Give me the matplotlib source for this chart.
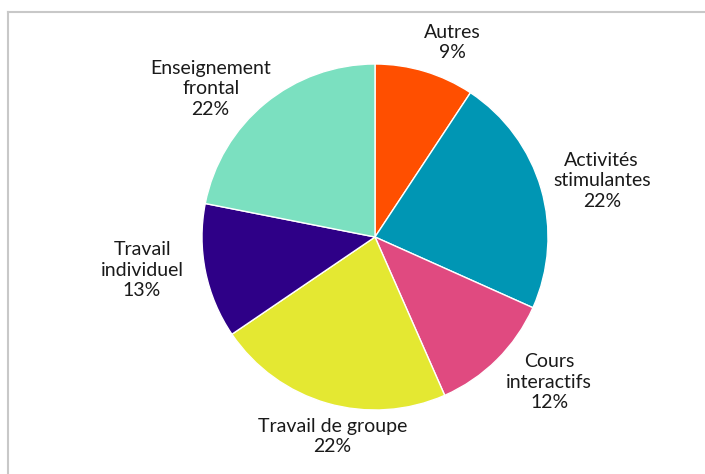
import matplotlib

matplotlib.use("Agg")
import matplotlib.pyplot as plt
import numpy as np
from matplotlib.lines import Line2D

# data (labels show the rounded shares)
labels = ["Autres", "Activités\nstimulantes", "Cours\ninteractifs",
          "Travail de groupe", "Travail\nindividuel", "Enseignement\nfrontal"]
shares = [9.3, 22.4, 11.7, 22.1, 12.6, 21.9]
colors = ["#FF4F00", "#0096B4", "#E04A80", "#E4E832", "#2E0087", "#7BE0C0"]
# label placement: angle (deg) and distance (in pie radii) from the centre
label_ang = [68.2, 13.9, -39.8, -102.1, -171.9, 137.9]
label_dist = [1.21, 1.35, 1.31, 1.18, 1.36, 1.28]

plt.rcParams["font.family"] = ["Lato", "DejaVu Sans"]

fig = plt.figure(figsize=(7.05, 4.74), dpi=100)
ax = fig.add_axes([0, 0, 1, 1])
R = 173.0  # pie radius in pixels

wedges, _ = ax.pie(shares, colors=colors, startangle=90, counterclock=False,
                   radius=1.0, wedgeprops=dict(edgecolor="white", linewidth=1.0))
ax.set_xlim(-375 / R, 330 / R)
ax.set_ylim(-237 / R, 237 / R)
ax.set_aspect("auto")
ax.axis("off")

for lab, v, a, d in zip(labels, shares, label_ang, label_dist):
    t = np.deg2rad(a)
    ax.text(d * np.cos(t), d * np.sin(t), f"{lab}\n{v:.0f}%",
            ha="center", va="center", fontsize=14, color="#1a1a1a",
            linespacing=1.25)

# light frame on the left and top edges
gray = "#C8C8C8"
fig.add_artist(Line2D([7.5 / 705, 1], [1 - 11.5 / 474] * 2, color=gray, lw=1.5))
fig.add_artist(Line2D([7.5 / 705] * 2, [0, 1 - 11.5 / 474], color=gray, lw=1.5))

fig.savefig("out.png", dpi=100)
